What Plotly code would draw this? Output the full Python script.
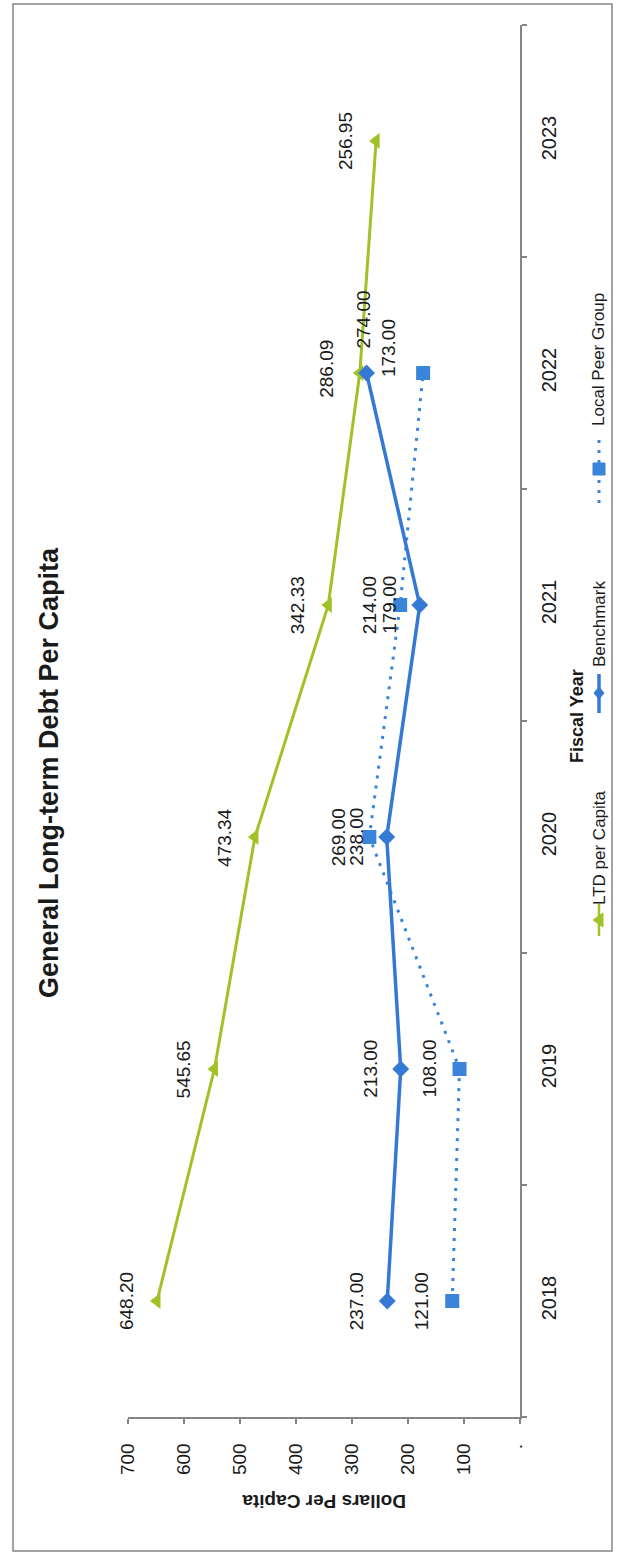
import plotly.graph_objects as go

# ---- data -------------------------------------------------------------
years = [2018, 2019, 2020, 2021, 2022, 2023]
ltd_per_capita = [648.20, 545.65, 473.34, 342.33, 286.09, 256.95]

benchmark_years = [2018, 2019, 2020, 2021, 2022]
benchmark = [237.00, 213.00, 238.00, 179.00, 274.00]

peer_years = [2018, 2019, 2020, 2021, 2022]
local_peer_group = [121.00, 108.00, 269.00, 214.00, 173.00]

value_ticks = [0, 100, 200, 300, 400, 500, 600, 700]
value_tick_text = ["\u00b7", "100", "200", "300", "400", "500", "600", "700"]
year_tick_text = [str(y) for y in years]

series_names = ["LTD per Capita", "Benchmark", "Local Peer Group"]

# ---- styling ----------------------------------------------------------
GREEN = "#A0C226"
BLUE = "#3479D4"
PEER = "#3A84DA"
AXIS = "#858585"
INK = "#1a1a1a"
FONT = "Liberation Sans, Arial, sans-serif"

W, H = 617, 1555
L, R, T, B = 128, 97, 25, 138
PW, PH = W - L - R, H - T - B


def px(x):
    """page x (pixels) -> paper x"""
    return (x - L) / PW


def py(y):
    """page y (pixels, from top) -> paper y"""
    return (H - B - y) / PH


fig = go.Figure()

fig.add_trace(go.Scatter(
    x=ltd_per_capita, y=years, name=series_names[0], mode="lines+markers",
    line=dict(color=GREEN, width=3),
    marker=dict(symbol="triangle-left", size=14, color=GREEN),
    cliponaxis=False, showlegend=False,
))
fig.add_trace(go.Scatter(
    x=local_peer_group, y=peer_years, name=series_names[2], mode="lines+markers",
    line=dict(color=PEER, width=3, dash="3px,7px"),
    marker=dict(symbol="square", size=14, color=PEER),
    cliponaxis=False, showlegend=False,
))
fig.add_trace(go.Scatter(
    x=benchmark, y=benchmark_years, name=series_names[1], mode="lines+markers",
    line=dict(color=BLUE, width=3.5),
    marker=dict(symbol="diamond", size=13, color=BLUE),
    cliponaxis=False, showlegend=False,
))


def rotated_note(x, y, text, size, angle=-90, xref="paper", yref="paper",
                 xshift=0, yshift=0):
    return dict(x=x, y=y, xref=xref, yref=yref, text=text, showarrow=False,
                textangle=angle, xanchor="center", yanchor="middle",
                xshift=xshift, yshift=yshift,
                font=dict(family=FONT, size=size, color=INK))


# ---- value labels (rotated, sitting just left of each marker) ---------
annotations = []
label_shift = {
    ("Benchmark", 2022): (-4, 53),
    ("Local Peer Group", 2022): (-35, 25),
    ("LTD per Capita", 2022): (-34, 4),
}
for name, xs, ys in [
    (series_names[0], ltd_per_capita, years),
    (series_names[1], benchmark, benchmark_years),
    (series_names[2], local_peer_group, peer_years),
]:
    for v, yr in zip(xs, ys):
        dx, dy = label_shift.get((name, yr), (-31, 0))
        annotations.append(rotated_note(v, yr, f"{v:.2f}", 19, xref="x", yref="y",
                                        xshift=dx, yshift=dy))

# ---- titles -----------------------------------------------------------
annotations.append(rotated_note(px(49), py(773),
                                "<b>General Long-term Debt Per Capita</b>", 27))
annotations.append(rotated_note(px(324), py(1502), "<b>Dollars Per Capita</b>", 19,
                                angle=180))
annotations.append(rotated_note(px(577), py(716), "<b>Fiscal Year</b>", 18))

# ---- legend (drawn by hand, rotated with the chart) -------------------
LEG_X = 599
legend_text = [
    (series_names[0], 848),
    (series_names[1], 624),
    (series_names[2], 360),
]
for name, cy in legend_text:
    annotations.append(rotated_note(px(LEG_X), py(cy), name, 17))


def poly(points, color):
    path = "M " + " L ".join(f"{px(a):.5f},{py(b):.5f}" for a, b in points) + " Z"
    return dict(type="path", xref="paper", yref="paper", path=path,
                fillcolor=color, line=dict(color=color, width=1), layer="above")


def seg(y0, y1, color, width, dash="solid"):
    return dict(type="line", xref="paper", yref="paper",
                x0=px(LEG_X), x1=px(LEG_X), y0=py(y0), y1=py(y1),
                line=dict(color=color, width=width, dash=dash), layer="above")


shapes = [
    # outer frame
    dict(type="rect", xref="paper", yref="paper",
         x0=px(13), x1=px(612), y0=py(1551), y1=py(4),
         line=dict(color=AXIS, width=1.5), layer="below"),
    # legend keys
    seg(936, 904, GREEN, 2.5),
    poly([(LEG_X - 6, 920), (LEG_X + 4, 913), (LEG_X + 4, 927)], GREEN),
    seg(713, 674, BLUE, 3.5),
    poly([(LEG_X, 687), (LEG_X + 5, 693), (LEG_X, 699), (LEG_X - 5, 693)], BLUE),
    seg(503, 436, PEER, 3, "3px,7px"),
    poly([(LEG_X - 6, 463), (LEG_X + 6, 463), (LEG_X + 6, 475), (LEG_X - 6, 475)], PEER),
]

fig.update_layout(
    width=W, height=H,
    margin=dict(l=L, r=R, t=T, b=B),
    paper_bgcolor="white", plot_bgcolor="white",
    showlegend=False,
    annotations=annotations,
    shapes=shapes,
    xaxis=dict(
        range=[700, 0], tickvals=value_ticks, ticktext=value_tick_text,
        tickangle=-90, ticks="outside", ticklen=5, tickcolor=AXIS, tickwidth=1.5,
        showline=True, linecolor=AXIS, linewidth=1.5,
        showgrid=False, zeroline=False, ticklabelstandoff=12,
        tickfont=dict(family=FONT, size=19, color=INK),
    ),
    yaxis=dict(
        range=[2017.5, 2023.5], side="right", tickvals=years,
        ticktext=year_tick_text, tickangle=-90, ticks="",
        showline=True, linecolor=AXIS, linewidth=1.5,
        showgrid=False, zeroline=False, ticklabelstandoff=10,
        tickfont=dict(family=FONT, size=20, color=INK),
        minor=dict(tickvals=[y - 0.5 for y in years] + [years[-1] + 0.5],
                   ticks="outside", ticklen=5, tickcolor=AXIS, tickwidth=1.5,
                   showgrid=False),
    ),
)

fig.write_html("out.html")
